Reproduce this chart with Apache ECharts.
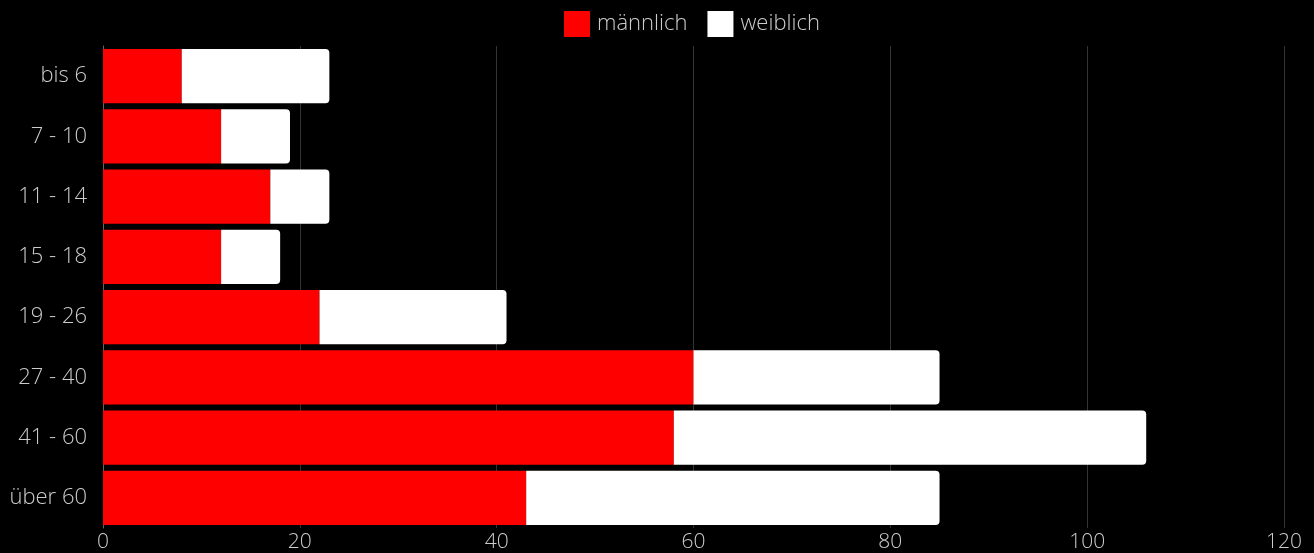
<!DOCTYPE html>
<html><head><meta charset="utf-8">
<script src="https://cdn.jsdelivr.net/npm/echarts@6/dist/echarts.min.js"></script>
<style>html,body{margin:0;padding:0;background:#000;}#c{width:1314px;height:553px;}</style>
</head><body><div id="c"></div>
<script>
var categories = ['bis 6','7 - 10','11 - 14','15 - 18','19 - 26','27 - 40','41 - 60','über 60'];
var maleValues = [8,12,17,12,22,60,58,43];
var femaleValues = [15,7,6,6,19,25,48,42];
var xTicks = [0,20,40,60,80,100,120];

var chart = echarts.init(document.getElementById('c'));
var font = '"Open Sans", sans-serif';
chart.setOption({
  backgroundColor: '#000',
  animation: false,
  textStyle: {fontFamily: font, fontWeight: 300},
  legend: {
    top: 6, left: 559,
    itemWidth: 26, itemHeight: 26, itemGap: 20,
    icon: 'rect',
    textStyle: {color: '#ccc', fontSize: 22, fontFamily: font, fontWeight: 300, padding: [0,0,0,2]},
    data: ['männlich','weiblich']
  },
  grid: {left: 103, right: 30, top: 46, bottom: 24, containLabel: false},
  xAxis: {
    type: 'value', min: xTicks[0], max: xTicks[xTicks.length-1], interval: 20,
    axisLine: {show: false}, axisTick: {show: false},
    splitLine: {show: true, lineStyle: {color: '#333', width: 1}},
    axisLabel: {color: '#ccc', fontSize: 21, fontFamily: font, fontWeight: 300, margin: 4}
  },
  yAxis: {
    type: 'category', inverse: true, data: categories,
    axisLine: {show: true, lineStyle: {color: '#666'}}, axisTick: {show: false},
    axisLabel: {color: '#ccc', fontSize: 22, fontFamily: font, fontWeight: 300, margin: 16}
  },
  series: [
    {name: 'männlich', type: 'bar', stack: 'a', data: maleValues, barCategoryGap: '10%',
     itemStyle: {color: '#ff0000'}},
    {name: 'weiblich', type: 'bar', stack: 'a', data: femaleValues, barCategoryGap: '10%',
     itemStyle: {color: '#ffffff', borderRadius: [0,4,4,0]}}
  ]
});
</script></body></html>
